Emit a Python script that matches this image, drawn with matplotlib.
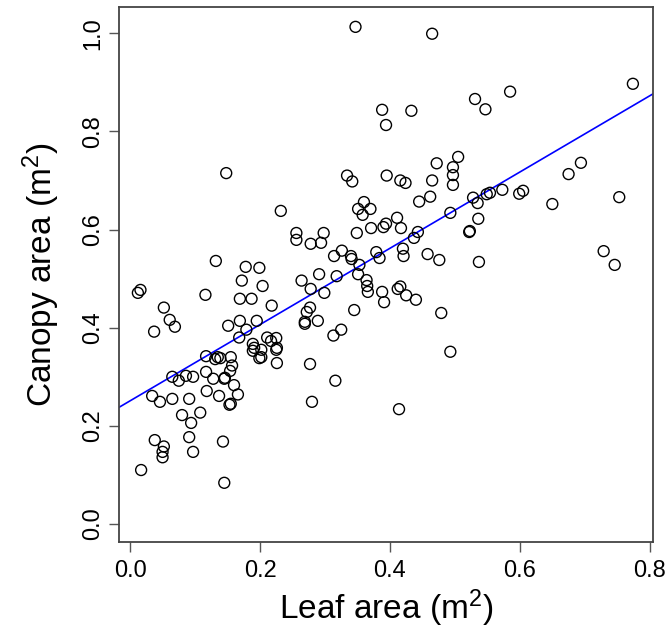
import numpy as np
import matplotlib
matplotlib.use('Agg')
import matplotlib.pyplot as plt

plt.rcParams['font.family'] = ['Liberation Sans', 'DejaVu Sans']
plt.rcParams['mathtext.fontset'] = 'custom'
plt.rcParams['mathtext.rm'] = 'Liberation Sans'
plt.rcParams['mathtext.it'] = 'Liberation Sans'

# leaf area (m2) and canopy area (m2)
leaf_area = [
    0.347, 0.465, 0.774, 0.585, 0.531, 0.547, 0.388, 0.433, 0.394, 0.505,
    0.472, 0.497, 0.497, 0.694, 0.675, 0.753, 0.650, 0.605, 0.599, 0.573,
    0.554, 0.549, 0.528, 0.535, 0.536, 0.523, 0.537, 0.729, 0.746, 0.334,
    0.342, 0.395, 0.416, 0.424, 0.465, 0.497, 0.462, 0.445, 0.360, 0.351,
    0.370, 0.358, 0.411, 0.493, 0.394, 0.390, 0.371, 0.417, 0.349, 0.443,
    0.437, 0.522, 0.256, 0.256, 0.298, 0.278, 0.294, 0.326, 0.314, 0.340,
    0.341, 0.379, 0.384, 0.420, 0.421, 0.458, 0.476, 0.353, 0.351, 0.264,
    0.291, 0.318, 0.364, 0.365, 0.366, 0.278, 0.299, 0.388, 0.391, 0.416,
    0.412, 0.425, 0.440, 0.479, 0.345, 0.277, 0.272, 0.269, 0.269, 0.289,
    0.325, 0.313, 0.493, 0.277, 0.316, 0.280, 0.414, 0.148, 0.232, 0.132,
    0.178, 0.199, 0.172, 0.204, 0.016, 0.012, 0.116, 0.169, 0.187, 0.218,
    0.052, 0.061, 0.069, 0.037, 0.151, 0.169, 0.195, 0.179, 0.168, 0.211,
    0.217, 0.225, 0.226, 0.189, 0.191, 0.202, 0.117, 0.135, 0.155, 0.202,
    0.131, 0.139, 0.157, 0.154, 0.189, 0.199, 0.225, 0.226, 0.065, 0.075,
    0.086, 0.097, 0.117, 0.128, 0.145, 0.146, 0.160, 0.166, 0.118, 0.137,
    0.155, 0.153, 0.034, 0.046, 0.065, 0.091, 0.108, 0.080, 0.094, 0.038,
    0.052, 0.050, 0.050, 0.091, 0.097, 0.143, 0.017, 0.145,
]
canopy_area = [
    1.013, 0.999, 0.897, 0.881, 0.866, 0.845, 0.844, 0.842, 0.813, 0.748,
    0.735, 0.727, 0.711, 0.736, 0.713, 0.666, 0.652, 0.679, 0.673, 0.681,
    0.675, 0.672, 0.665, 0.654, 0.622, 0.597, 0.534, 0.556, 0.528, 0.710,
    0.698, 0.710, 0.700, 0.695, 0.700, 0.691, 0.667, 0.657, 0.656, 0.642,
    0.642, 0.630, 0.624, 0.634, 0.612, 0.605, 0.603, 0.603, 0.593, 0.595,
    0.583, 0.595, 0.593, 0.579, 0.593, 0.571, 0.573, 0.557, 0.546, 0.546,
    0.540, 0.554, 0.542, 0.561, 0.546, 0.550, 0.538, 0.528, 0.509, 0.496,
    0.509, 0.505, 0.497, 0.485, 0.473, 0.479, 0.471, 0.473, 0.452, 0.484,
    0.479, 0.466, 0.457, 0.430, 0.436, 0.441, 0.432, 0.412, 0.408, 0.414,
    0.396, 0.384, 0.351, 0.326, 0.292, 0.249, 0.234, 0.715, 0.638, 0.536,
    0.524, 0.522, 0.496, 0.485, 0.477, 0.471, 0.467, 0.459, 0.459, 0.445,
    0.441, 0.416, 0.402, 0.392, 0.404, 0.414, 0.414, 0.396, 0.380, 0.380,
    0.373, 0.379, 0.359, 0.367, 0.359, 0.355, 0.342, 0.340, 0.340, 0.340,
    0.336, 0.338, 0.323, 0.312, 0.353, 0.338, 0.355, 0.328, 0.300, 0.292,
    0.302, 0.300, 0.310, 0.296, 0.296, 0.298, 0.283, 0.264, 0.271, 0.261,
    0.245, 0.243, 0.261, 0.249, 0.255, 0.255, 0.227, 0.222, 0.206, 0.171,
    0.158, 0.147, 0.136, 0.177, 0.147, 0.168, 0.110, 0.084,
]

# fitted regression line
fit_intercept = 0.251
fit_slope = 0.777

fig = plt.figure(figsize=(6.65, 6.34), dpi=100)
ax = fig.add_axes([0.179, 0.1456, 0.803, 0.843])

ax.scatter(leaf_area, canopy_area, s=62, facecolors='none',
           edgecolors='black', linewidths=1.0, zorder=3)

xlim = (-0.017, 0.805)
xx = np.array(xlim)
ax.plot(xx, fit_intercept + fit_slope * xx, color='#0000ff', lw=1.2, zorder=2)

ax.set_xlim(*xlim)
ax.set_ylim(-0.036, 1.053)

ax.set_xticks([0.0, 0.2, 0.4, 0.6, 0.8])
ax.set_xticklabels(['0.0', '0.2', '0.4', '0.6', '0.8'])
ax.set_yticks([0.0, 0.2, 0.4, 0.6, 0.8, 1.0])
ax.set_yticklabels(['0.0', '0.2', '0.4', '0.6', '0.8', '1.0'],
                   rotation=90, va='center')

ax.tick_params(axis='both', direction='out', length=7, width=1,
               color='#555555', labelsize=17, labelcolor='black')
ax.tick_params(axis='x', pad=6)
ax.tick_params(axis='y', pad=4)

for sp in ax.spines.values():
    sp.set_color('#444444')
    sp.set_linewidth(1.3)

ax.set_xlabel('Leaf area (m$^2$)', fontsize=24, labelpad=4)
ax.set_ylabel('Canopy area (m$^2$)', fontsize=24, labelpad=14)

fig.savefig('out.png', dpi=100)
